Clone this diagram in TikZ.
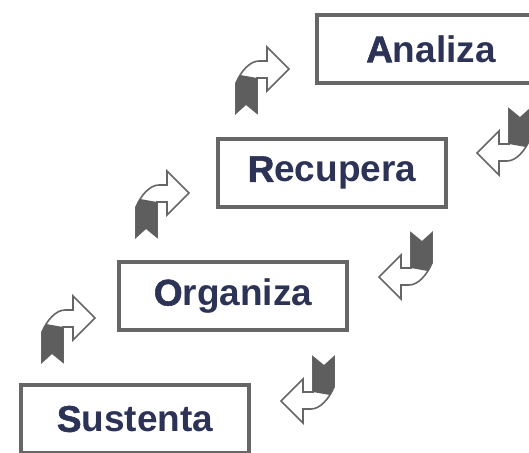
\documentclass[tikz,border=0pt]{standalone}
\usepackage{fontspec}
\setmainfont{Liberation Sans}
\definecolor{textnavy}{HTML}{2D3356}
\definecolor{framegray}{HTML}{666666}
\definecolor{ribbongray}{HTML}{5E5E5E}
\newcommand\initial[1]{{\addfontfeatures{FakeBold=1.5}#1}}
% bent arrow icon, origin at the bottom left corner of the ribbon
\def\bentarrow[#1](#2){
  \begin{scope}[shift={(#2)},#1]
    \draw[framegray, line width=1.6pt, fill=white, line join=miter] (0,0) -- (10,-9) -- (21,0) -- (21,-35) -- (31,-35) -- (31,-22) -- (53,-44) -- (31,-66) -- (31,-52) -- (23,-52) .. controls (14,-52) and (5,-42) .. (0,-30) -- cycle;
    \fill[ribbongray] (0,0) -- (10,-9) -- (21,0) -- (21,-35) -- (4,-38) -- (0,-30) -- cycle;
  \end{scope}
}

\begin{document}
\begin{tikzpicture}[x=1pt, y=-1pt,
    stagebox/.style={draw=framegray, line width=4pt, fill=white, minimum width=228pt, minimum height=68pt, inner sep=0pt, text=textnavy, font=\bfseries\fontsize{37}{40}\selectfont}]
	%%%%% START %%%%%
	\useasboundingbox (0,0) rectangle (529,452);
	\clip (0,0) rectangle (529,452);
	
	\node[stagebox] (sustenta) at (135,419) {\initial{S}ustenta};
	\node[stagebox] (organiza) at (233,296) {\initial{O}rganiza};
	\node[stagebox] (recupera) at (332,173) {\initial{R}ecupera};
	\node[stagebox] (analiza) at (431,49) {\initial{A}naliza};
	
	% going up on the left
	\bentarrow[](42,362);
	\bentarrow[](136,237);
	\bentarrow[](236,113);
	
	% coming down on the right
	\bentarrow[rotate=180](334,357);
	\bentarrow[rotate=180](432,233);
	\bentarrow[rotate=180](530,109);
	%%%%% END %%%%%
\end{tikzpicture}
\end{document}
